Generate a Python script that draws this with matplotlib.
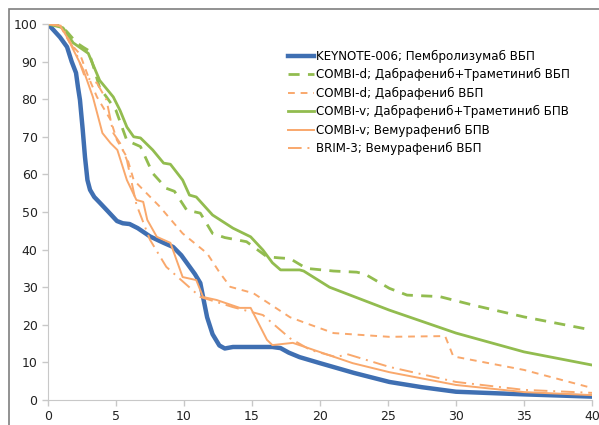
import matplotlib.pyplot as plt
from matplotlib.patches import Rectangle

# KEYNOTE-006; Pembrolizumab PFS
key_x = [0, 0.88, 1.4, 1.74, 2.06, 2.2, 2.35, 2.55, 2.72, 2.9, 3.09, 3.4, 3.8, 4.4, 5.07, 5.5, 6.0, 6.6, 7.5, 8.5, 9.2, 9.8, 10.3, 10.8, 11.2, 11.45, 11.7, 12.1, 12.6, 13.0, 13.6, 16.5, 17.1, 17.7, 18.5, 20, 22.5, 25.1, 27.5, 30, 35, 40]
key_y = [100, 96.5, 93.9, 90, 87, 83.3, 79.8, 72, 64.6, 58.5, 55.9, 54, 52.5, 50.2, 47.6, 47, 46.8, 45.7, 43.5, 41.8, 40.7, 38.5, 36, 33.5, 31.1, 26.5, 22, 17.5, 14.5, 13.7, 14.1, 14.1, 13.8, 12.6, 11.4, 9.8, 7.2, 4.8, 3.4, 2.2, 1.5, 0.9]

# COMBI-d; D+T PFS
cdt_x = [0, 1.0, 1.5, 2.1, 2.6, 2.96, 3.4, 3.8, 4.3, 5.0, 5.8, 6.8, 7.7, 8.7, 9.3, 10.2, 11.2, 12.1, 13.0, 14.6, 16.1, 17.0, 17.8, 19, 21, 22.7, 23.3, 25.1, 26.4, 28.8, 31.3, 35, 40]
cdt_y = [100, 99.5, 97.5, 95, 93.8, 93, 88, 83, 80.6, 77, 69, 67.4, 60.3, 56.3, 55.5, 50.5, 49.7, 44.3, 43.2, 42.1, 38.1, 37.8, 37.6, 35, 34.3, 34, 33.5, 29.7, 27.9, 27.5, 25.2, 22.1, 18.6]

# COMBI-d; dabrafenib PFS
cd_x = [0, 0.9, 1.6, 2.35, 2.96, 3.6, 4.6, 5.07, 5.8, 6.3, 7.0, 8.2, 9.9, 11.7, 12.6, 13.4, 15.1, 17.8, 19.3, 21, 25.1, 29.2, 29.8, 35, 40]
cd_y = [100, 99.5, 95, 92, 86, 80.6, 74.5, 69.1, 64.6, 58.5, 55.9, 51.5, 44.3, 39, 34, 30.1, 28.4, 22, 20, 17.8, 16.8, 17, 11.6, 8, 3.2]

# COMBI-v; D+T PFS
cvt_x = [0, 1.1, 1.85, 2.96, 3.8, 4.8, 5.3, 5.8, 6.3, 6.8, 7.7, 8.5, 9.0, 9.9, 10.4, 10.9, 12.1, 13.6, 14.9, 15.8, 16.5, 17.1, 18.5, 18.8, 20.7, 25.1, 30, 35, 40]
cvt_y = [100, 99, 95, 92.2, 85, 80.6, 77, 72.6, 70, 69.7, 66.5, 63, 62.7, 58.5, 54.5, 54, 49.2, 45.7, 43.4, 39.9, 36.5, 34.6, 34.6, 34.3, 30, 23.9, 17.8, 12.8, 9.3]

# COMBI-v; vemurafenib PFS
cv_x = [0, 0.9, 1.4, 2.6, 3.3, 4.0, 4.6, 5.1, 5.8, 6.5, 7.0, 7.3, 8.0, 9.0, 9.9, 10.9, 11.4, 12.4, 14.1, 14.9, 16.1, 16.5, 18.0, 20.2, 22.4, 25.1, 30, 35, 40]
cv_y = [100, 99.5, 96.5, 87.8, 80.6, 71, 68.3, 66.5, 58.5, 53.2, 52.7, 47.9, 43.4, 41.8, 32.7, 31.9, 27.4, 26.6, 24.5, 24.5, 16, 14.6, 15.2, 12.5, 9.8, 7.4, 4, 2.1, 1.3]

# BRIM-3; vemurafenib PFS
br_x = [0, 1.0, 2.1, 2.7, 3.6, 4.3, 4.8, 5.3, 5.8, 6.5, 7.5, 8.7, 11.2, 13.6, 15.8, 17.8, 19.3, 21.2, 22.0, 25.1, 30, 35, 40]
br_y = [100, 99.5, 92, 86, 84.3, 79.8, 71, 68.3, 63.8, 52, 42.6, 35.4, 27.4, 24.7, 22.6, 16.4, 13.3, 11.4, 12.2, 8.8, 4.8, 2.7, 1.9]

labels = ['KEYNOTE-006; Пембролизумаб ВБП',
          'COMBI-d; Дабрафениб+Траметиниб ВБП',
          'COMBI-d; Дабрафениб ВБП',
          'COMBI-v; Дабрафениб+Траметиниб БПВ',
          'COMBI-v; Вемурафениб БПВ',
          'BRIM-3; Вемурафениб ВБП']

blue = '#3F6FB2'
green = '#92BC4F'
orange = '#F9A86C'

fig = plt.figure(figsize=(5.99, 4.25), dpi=100)
fig.patches.append(Rectangle((9 / 599, -0.1), 1.2, 1 - 9 / 425 + 0.1, transform=fig.transFigure,
                             fill=False, edgecolor='#7f7f7f', linewidth=1.2))
ax = fig.add_axes([48 / 599, 1 - 400 / 425, 544 / 599, 376 / 425])

ax.plot(key_x, key_y, color=blue, lw=3.2, label=labels[0])
ax.plot(cdt_x, cdt_y, color=green, lw=2, dashes=(4, 3), label=labels[1])
ax.plot(cd_x, cd_y, color=orange, lw=1.4, dashes=(3.5, 3), label=labels[2])
ax.plot(cvt_x, cvt_y, color=green, lw=2, label=labels[3])
ax.plot(cv_x, cv_y, color=orange, lw=1.4, label=labels[4])
ax.plot(br_x, br_y, color=orange, lw=1.4, dashes=(7, 3, 1, 3), label=labels[5])

ax.set_xlim(0, 40)
ax.set_ylim(0, 100)
ax.set_xticks(range(0, 41, 5))
ax.set_yticks(range(0, 101, 10))
for s in ['top', 'right']:
    ax.spines[s].set_visible(False)
for s in ['left', 'bottom']:
    ax.spines[s].set_color('#c8c8c8')
ax.tick_params(colors='#c8c8c8', labelcolor='#222222', labelsize=9, length=4, width=1)
ax.patch.set_alpha(0)

fig.legend(loc='upper left', bbox_to_anchor=(283 / 599, 1 - 45 / 425), frameon=False,
           fontsize=8.6, handlelength=2.2, handletextpad=0.2, labelspacing=0.45,
           borderaxespad=0)

plt.savefig('out.png', dpi=100)
